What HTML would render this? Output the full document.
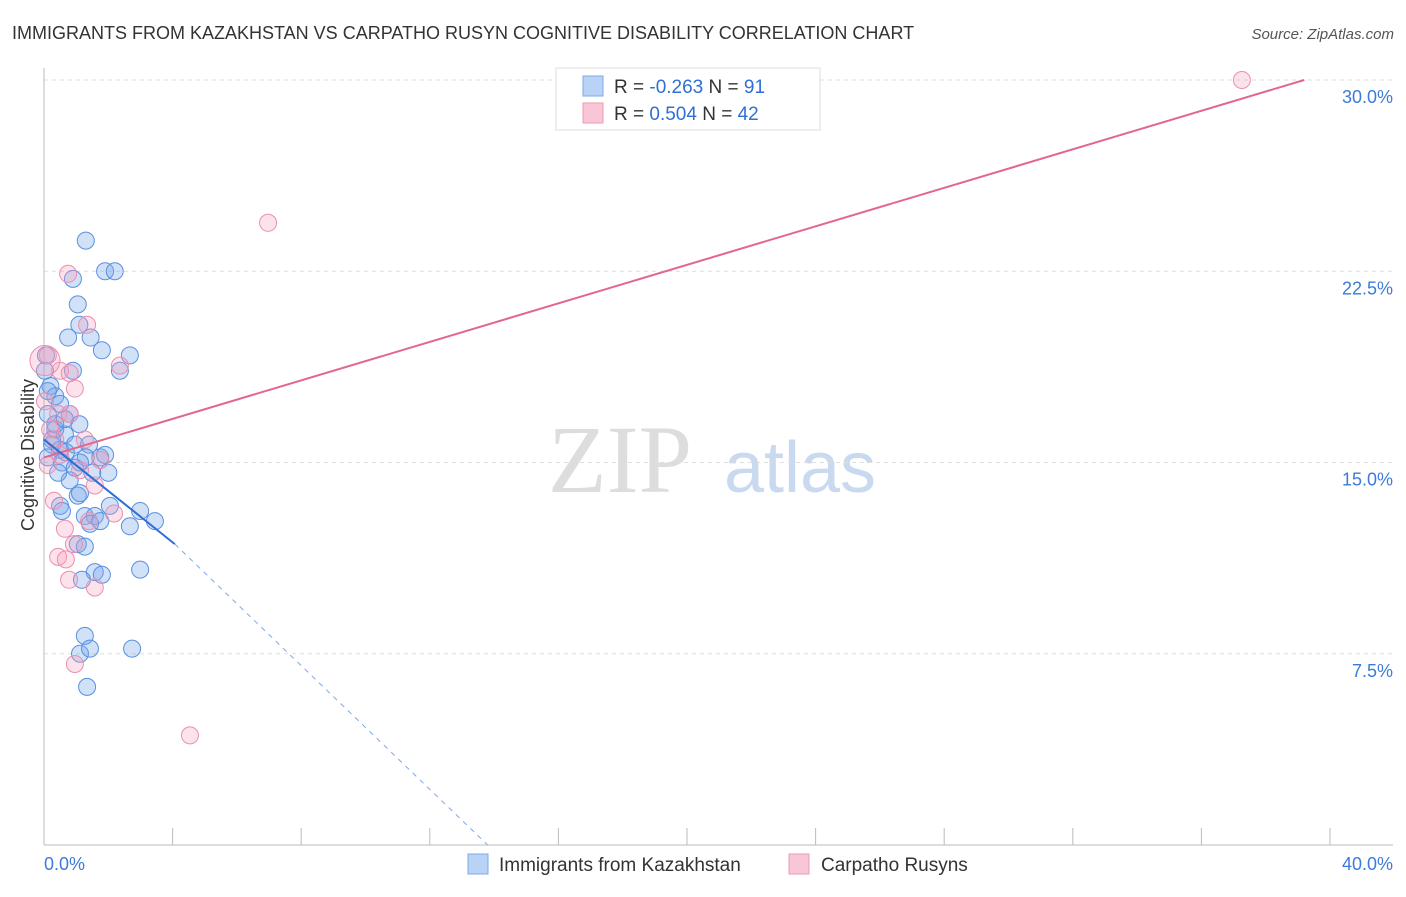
<!DOCTYPE html>
<html><head><meta charset="utf-8"><style>
body{margin:0;background:#fff;font-family:"Liberation Sans",sans-serif;}
</style></head><body>
<svg width="1406" height="892" xmlns="http://www.w3.org/2000/svg" style="font-family:'Liberation Sans',sans-serif">
<text x="12" y="39" font-size="18" fill="#333">IMMIGRANTS FROM KAZAKHSTAN VS CARPATHO RUSYN COGNITIVE DISABILITY CORRELATION CHART</text>
<text x="1394" y="39" font-size="15" fill="#555" text-anchor="end" font-style="italic">Source: ZipAtlas.com</text>
<text x="620" y="492" font-size="96" fill="#ddd" font-family="Liberation Serif,serif" text-anchor="middle">ZIP</text>
<text x="800" y="492" font-size="72" fill="#c9d9f0" text-anchor="middle">atlas</text>
<g id="grid"></g>
<g id="axes"></g>
<g id="pts"></g>
<g id="lines"></g>
<text transform="translate(34,455) rotate(-90)" font-size="18" fill="#333" text-anchor="middle">Cognitive Disability</text>
<g>
<rect x="556" y="68" width="264" height="62" fill="#fff" stroke="#ddd"/>
<rect x="583" y="76" width="20" height="20" fill="#b8d3f5" stroke="#7ea8e6"/>
<rect x="583" y="103" width="20" height="20" fill="#f9c6d6" stroke="#ef9ab5"/>
<text x="614" y="93" font-size="19" fill="#333">R = <tspan fill="#2f6fd6">-0.263</tspan>   N = <tspan fill="#2f6fd6"> 91</tspan></text>
<text x="614" y="120" font-size="19" fill="#333">R = <tspan fill="#2f6fd6"> 0.504</tspan>   N = <tspan fill="#2f6fd6">42</tspan></text>
</g>
<g>
<rect x="468" y="854" width="20" height="20" fill="#b8d3f5" stroke="#7ea8e6"/>
<text x="499" y="871" font-size="19" fill="#333">Immigrants from Kazakhstan</text>
<rect x="789" y="854" width="20" height="20" fill="#f9c6d6" stroke="#ef9ab5"/>
<text x="821" y="871" font-size="19" fill="#333">Carpatho Rusyns</text>
</g>
</svg>
<script>
const yTicks=[7.5,15,22.5,30];
const xTickLabels=["0.0%","40.0%"];
const blueX=[1.3,1.9,2.2,0.9,1.05,1.1,0.75,1.45,1.8,2.67,0.03,0.2,0.35,0.9,0.12,0.5,0.8,1.1,0.35,0.65,0.25,0.5,0.96,1.4,1.3,1.75,1.9,0.12,0.56,0.96,1.5,0.8,2.0,0.5,1.05,0.56,1.12,1.27,1.58,1.43,2.05,2.99,3.45,2.67,1.75,1.05,1.27,1.58,1.8,1.18,2.99,1.27,1.12,1.43,2.74,1.34,2.36,0.12,0.35,0.65,0.25,0.68,1.12,0.44,0.06];
const blueY=[23.7,22.5,22.5,22.2,21.2,20.4,19.9,19.9,19.4,19.2,18.6,18.0,17.6,18.6,16.9,17.3,16.9,16.5,16.3,16.1,15.7,15.5,15.7,15.7,15.2,15.2,15.3,15.2,15.0,14.8,14.6,14.3,14.6,13.3,13.7,13.1,13.8,12.9,12.9,12.6,13.3,13.1,12.7,12.5,12.7,11.8,11.7,10.7,10.6,10.4,10.8,8.2,7.5,7.7,7.7,6.2,18.6,17.8,16.5,16.7,15.9,15.4,15.0,14.6,19.2];
const pinkX=[0.75,1.34,2.36,6.97,37.26,0.12,0.5,0.8,0.96,0.03,0.44,0.8,0.19,1.27,0.5,1.75,0.12,1.12,1.58,0.31,0.65,0.93,0.44,0.68,2.18,1.4,0.78,1.58,0.96,4.54,0.03,0.35];
const pinkY=[22.4,20.4,18.8,24.4,30.0,19.2,18.6,18.5,17.9,17.4,16.9,16.9,16.3,15.9,15.3,15.1,14.9,14.7,14.1,13.5,12.4,11.8,11.3,11.2,13.0,12.7,10.4,10.1,7.1,4.3,19.0,15.9];
const pinkLine=[15.2,30.0], pinkLineX=[0,39.2];
const blueLine=[15.9,11.8], blueLineX=[0,4.07], blueDashEndX=13.8;
const X0=44,XS=32.15,Y0=845,YS=25.5;
const sx=v=>X0+v*XS, sy=v=>Y0-v*YS;
const NS="http://www.w3.org/2000/svg";
function mk(p,t,a){const e=document.createElementNS(NS,t);for(const k in a)e.setAttribute(k,a[k]);p.appendChild(e);return e;}
const grid=document.getElementById('grid'),axes=document.getElementById('axes'),pts=document.getElementById('pts'),lines=document.getElementById('lines');
yTicks.forEach(t=>{
 const l=mk(grid,'line',{x1:44,x2:1393,y1:sy(t),y2:sy(t),stroke:'#ddd','stroke-dasharray':'4,4'});
 
 
 const tx=mk(grid,'text',{x:1393,y:sy(t)+23,'font-size':18,fill:'#3d7bd9','text-anchor':'end'});
 tx.textContent=t.toFixed(1)+'%';
 
 
});
mk(axes,'line',{x1:44,x2:44,y1:68,y2:845,stroke:'#bbb'});
mk(axes,'line',{x1:44,x2:1393,y1:845,y2:845,stroke:'#bbb'});
for(let i=0;i<=10;i++){const l=mk(axes,'line',{x1:sx(i*4),x2:sx(i*4),y1:828,y2:845,stroke:'#bbb'});
 
 }
const xl0=mk(axes,'text',{x:44,y:870,'font-size':18,fill:'#3d7bd9'});xl0.textContent=xTickLabels[0];


const xl1=mk(axes,'text',{x:1393,y:870,'font-size':18,fill:'#3d7bd9','text-anchor':'end'});xl1.textContent=xTickLabels[1];


blueX.forEach((x,i)=>{const c=mk(pts,'circle',{cx:sx(x),cy:sy(blueY[i]),r:8.5,fill:'rgba(120,168,236,0.35)',stroke:'#5a90e0','stroke-width':1});
 
 });
pinkX.forEach((x,i)=>{const c=mk(pts,'circle',{cx:sx(x),cy:sy(pinkY[i]),r:i==30?15:8.5,fill:'rgba(244,160,188,0.3)',stroke:'#ec8fae','stroke-width':1});
 
 });
const pl=mk(lines,'line',{x1:sx(pinkLineX[0]),y1:sy(pinkLine[0]),x2:sx(pinkLineX[1]),y2:sy(pinkLine[1]),stroke:'#e2668f','stroke-width':2});


const bl=mk(lines,'line',{x1:sx(blueLineX[0]),y1:sy(blueLine[0]),x2:sx(blueLineX[1]),y2:sy(blueLine[1]),stroke:'#2f6fd6','stroke-width':2});


const bd=mk(lines,'line',{x1:sx(blueLineX[1]),y1:sy(blueLine[1]),x2:sx(blueDashEndX),y2:sy(0),stroke:'#7ea8e6','stroke-width':1,'stroke-dasharray':'5,5'});


</script>
</body></html>
